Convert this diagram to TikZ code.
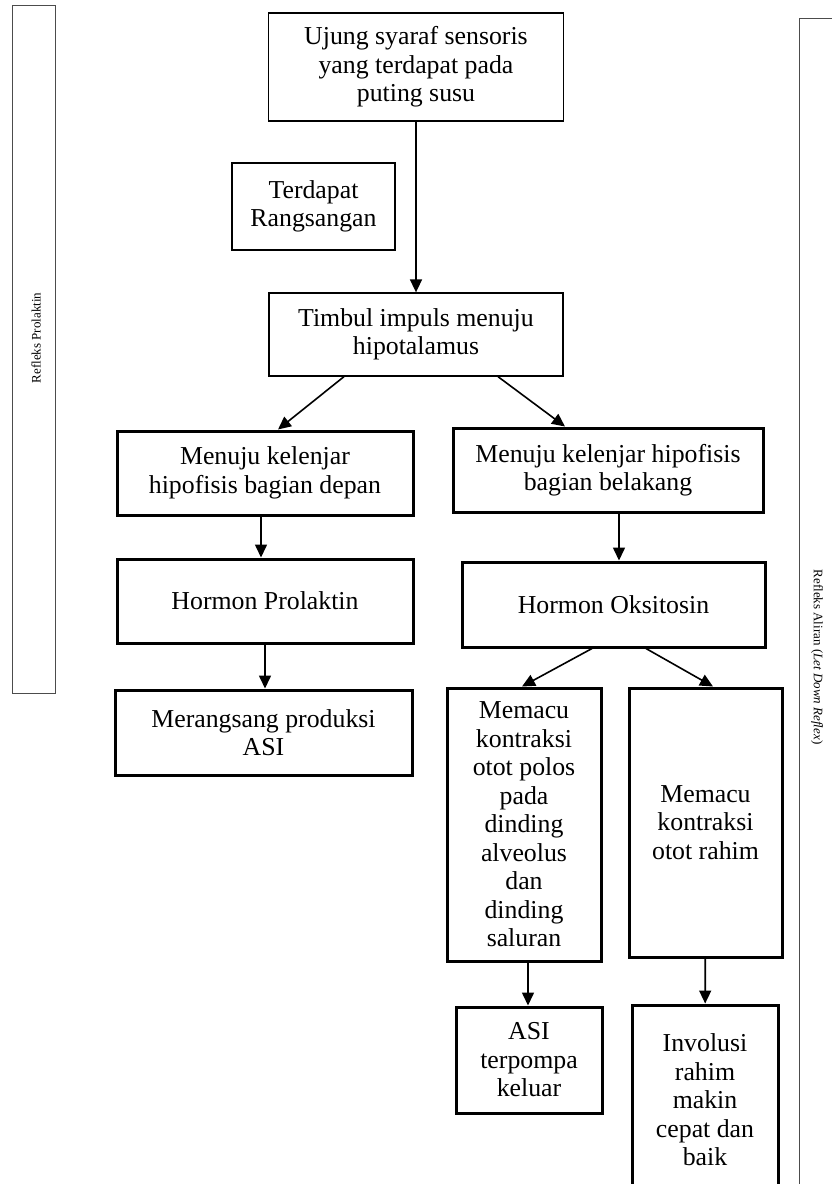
\documentclass[tikz,border=0pt]{standalone}
\usepackage{fontspec}
\setmainfont{Liberation Serif}
\usepackage{tikz}
\usetikzlibrary{arrows.meta, positioning}

\begin{document}
\begin{tikzpicture}[x=1pt, y=-1pt,
        thinbox/.style={draw, line width=1.3pt, align=center, inner sep=0pt,
            font=\fontsize{25.8}{28.5}\selectfont},
        thickbox/.style={thinbox, line width=3pt},
        sidebar/.style={draw=black!70, line width=1pt, inner sep=0pt},
        sidelabel/.style={inner sep=0pt, font=\fontsize{13}{15}\selectfont},
        arr/.style={-{Triangle[length=13pt, width=12pt]}, line width=1.6pt}]
        \useasboundingbox (0,0) rectangle (831,1184);

        \node[sidebar, minimum width=43pt, minimum height=688pt] (kiri) at (33.5, 349) {};
        \node[sidelabel, rotate=90] (prolaktinlbl) at (36, 338) {Refleks Prolaktin};
        \node[sidebar, minimum width=51pt, minimum height=1182pt] (kanan) at (824.5, 609) {};
        \node[sidelabel, rotate=-90] (aliranlbl) at (817, 657) {Refleks Aliran (\textit{Let Down Reflex})};

        \node[thinbox, minimum width=295pt, minimum height=108pt] (ujung) at (416, 67)
            {Ujung syaraf sensoris\\yang terdapat pada\\puting susu};
        \node[thinbox, minimum width=163pt, minimum height=87pt] (rangsang) at (313.5, 206.5)
            {Terdapat\\Rangsangan};
        \node[thinbox, minimum width=294pt, minimum height=83pt] (timbul) at (416, 334.5)
            {Timbul impuls menuju\\hipotalamus};

        \node[thickbox, minimum width=296pt, minimum height=84pt] (depan) at (265, 473)
            {Menuju kelenjar\\hipofisis bagian depan};
        \node[thickbox, minimum width=296pt, minimum height=84pt] (prolaktin) at (265, 601)
            {Hormon Prolaktin};
        \node[thickbox, minimum width=297pt, minimum height=85pt] (merangsang) at (263.5, 732.5)
            {Merangsang produksi\\ASI};

        \node[thickbox, minimum width=310pt, minimum height=84pt] (belakang) at (608, 470)
            {Menuju kelenjar hipofisis\\bagian belakang};
        \node[thickbox, minimum width=303pt, minimum height=85pt] (oksitosin) at (613.5, 604.5)
            {Hormon Oksitosin};
        \node[thickbox, minimum width=154pt, minimum height=273pt] (polos) at (524, 824.5)
            {Memacu\\kontraksi\\otot polos\\pada\\dinding\\alveolus\\dan\\dinding\\saluran};
        \node[thickbox, minimum width=153pt, minimum height=269pt] (rahim) at (705.5, 822.5)
            {Memacu\\kontraksi\\otot rahim};
        \node[thickbox, minimum width=146pt, minimum height=106pt] (pompa) at (529, 1060)
            {ASI\\terpompa\\keluar};
        \node[thickbox, minimum width=146pt, minimum height=190pt] (involusi) at (705, 1100)
            {Involusi\\rahim\\makin\\cepat dan\\baik};

        % alur utama
        \draw[arr] (ujung) -- (timbul);
        \draw[arr] ([xshift=-72pt]timbul.south) -- ([xshift=13pt]depan.north);
        \draw[arr] ([xshift=82pt]timbul.south) -- ([xshift=-43pt]belakang.north);

        % cabang kiri
        \draw[arr] ([xshift=-4pt]depan.south) -- ([xshift=-4pt]prolaktin.north);
        \draw[arr] (prolaktin.south) -- (prolaktin.south |- merangsang.north);

        % cabang kanan
        \draw[arr] ([xshift=11pt]belakang.south) -- ([xshift=11pt]belakang.south |- oksitosin.north);
        \draw[arr] ([xshift=-21.5pt]oksitosin.south) -- ([xshift=-2pt]polos.north);
        \draw[arr] ([xshift=32.5pt]oksitosin.south) -- ([xshift=7.5pt]rahim.north);
        \draw[arr] ([xshift=4pt]polos.south) -- ([xshift=4pt]polos.south |- pompa.north);
        \draw[arr] (rahim) -- (involusi);
    \end{tikzpicture}
\end{document}
